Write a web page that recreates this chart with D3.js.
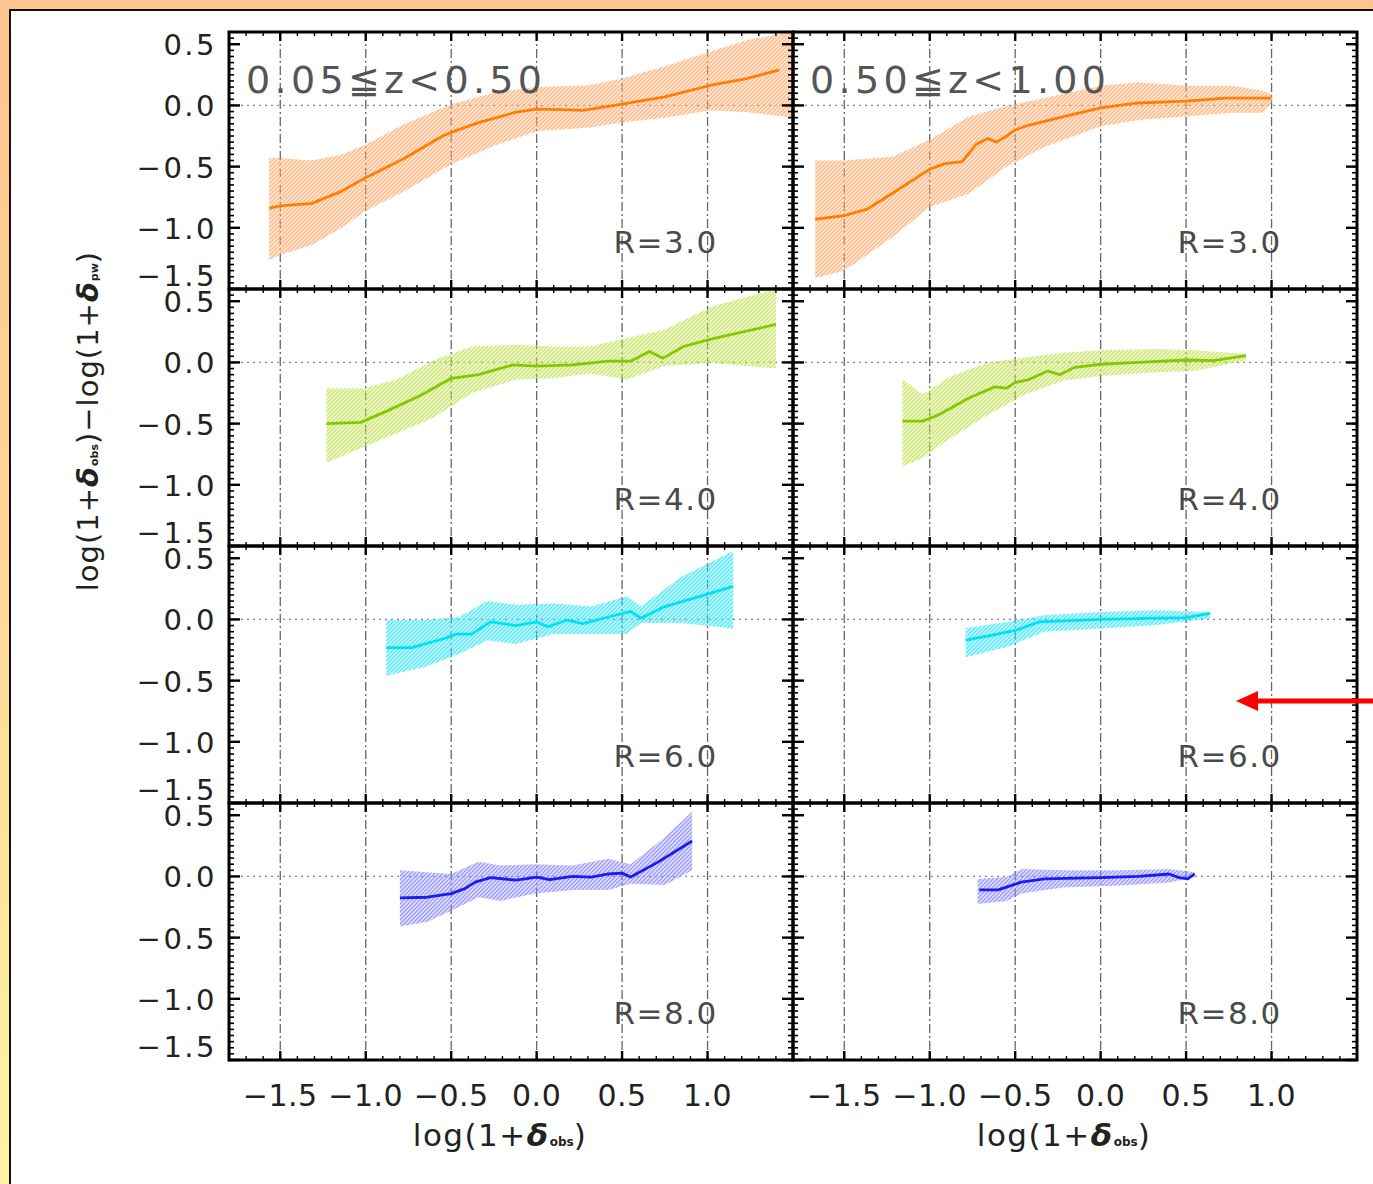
<!DOCTYPE html>
<html><head><meta charset="utf-8">
<script src="https://cdn.jsdelivr.net/npm/d3@7"></script>
<style>body{margin:0;background:#fff;overflow:hidden}</style>
</head><body><svg id="c" width="1373" height="1184"></svg>
<script>
// ---------- data ----------
const radii = ["R=3.0", "R=4.0", "R=6.0", "R=8.0"];
const zBins = ["0.05≦z<0.50", "0.50≦z<1.00"];
const xTicks = [-1.5, -1.0, -0.5, 0.0, 0.5, 1.0];
const xTickLabels = ["−1.5", "−1.0", "−0.5", "0.0", "0.5", "1.0"];
const yTicks = [0.5, 0.0, -0.5, -1.0, -1.5];
const yTickLabels = ["0.5", "0.0", "−0.5", "−1.0", "−1.5"];
const lineColors = ["#ff7f00", "#86c800", "#00e2f2", "#1c1cee"];
const bandColors = ["#ffaa70", "#c4e25a", "#36e6f6", "#8a8aff"];

// median curves [log(1+δobs), Δ]
const lineR3a = [[-1.565,-0.84],[-1.5,-0.82],[-1.315,-0.80],[-1.14,-0.70],[-1.0,-0.59],[-0.77,-0.43],[-0.55,-0.25],[-0.5,-0.22],[-0.34,-0.14],[-0.12,-0.055],[0.0,-0.03],[0.14,-0.035],[0.27,-0.04],[0.5,0.01],[0.75,0.07],[1.02,0.165],[1.23,0.22],[1.42,0.29]];
const lineR3b = [[-1.67,-0.93],[-1.5,-0.90],[-1.37,-0.85],[-1.22,-0.72],[-1.0,-0.52],[-0.91,-0.475],[-0.81,-0.46],[-0.73,-0.32],[-0.66,-0.27],[-0.61,-0.30],[-0.55,-0.25],[-0.5,-0.20],[-0.44,-0.17],[-0.24,-0.10],[0.0,-0.02],[0.22,0.02],[0.5,0.035],[0.73,0.06],[1.0,0.06]];
const lineR4a = [[-1.23,-0.50],[-1.03,-0.49],[-0.88,-0.40],[-0.68,-0.27],[-0.5,-0.13],[-0.34,-0.10],[-0.14,-0.02],[0.0,-0.03],[0.21,-0.02],[0.42,0.01],[0.55,0.01],[0.66,0.09],[0.74,0.035],[0.86,0.13],[1.02,0.19],[1.40,0.31]];
const lineR4b = [[-1.16,-0.48],[-1.04,-0.48],[-0.95,-0.43],[-0.77,-0.29],[-0.62,-0.20],[-0.55,-0.21],[-0.5,-0.165],[-0.42,-0.14],[-0.31,-0.07],[-0.24,-0.10],[-0.15,-0.04],[0.0,-0.015],[0.22,0.0],[0.5,0.02],[0.66,0.015],[0.85,0.055]];
const lineR6a = [[-0.88,-0.23],[-0.73,-0.23],[-0.55,-0.16],[-0.47,-0.12],[-0.38,-0.12],[-0.27,-0.02],[-0.12,-0.05],[0.0,-0.02],[0.065,-0.06],[0.18,-0.005],[0.27,-0.035],[0.42,0.02],[0.55,0.065],[0.61,0.01],[0.75,0.105],[1.02,0.215],[1.15,0.27]];
const lineR6b = [[-0.79,-0.17],[-0.64,-0.13],[-0.5,-0.09],[-0.36,-0.02],[0.0,0.0],[0.33,0.01],[0.5,0.015],[0.64,0.05]];
const lineR8a = [[-0.80,-0.175],[-0.64,-0.17],[-0.5,-0.14],[-0.42,-0.10],[-0.36,-0.046],[-0.27,-0.01],[-0.12,-0.03],[0.0,-0.005],[0.076,-0.027],[0.21,0.0],[0.32,-0.005],[0.42,0.02],[0.5,0.027],[0.55,-0.005],[0.71,0.117],[0.91,0.29]];
const lineR8b = [[-0.71,-0.11],[-0.60,-0.11],[-0.465,-0.047],[-0.33,-0.02],[0.0,-0.01],[0.22,0.0],[0.40,0.02],[0.46,-0.01],[0.51,-0.02],[0.55,0.02]];

// scatter bands [x, lower, upper]
const bandR3a = [[-1.565,-1.26,-0.43],[-1.5,-1.22,-0.43],[-1.315,-1.14,-0.45],[-1.14,-1.0,-0.40],[-1.0,-0.86,-0.32],[-0.77,-0.70,-0.15],[-0.5,-0.48,0.01],[-0.23,-0.32,0.11],[0.0,-0.21,0.15],[0.31,-0.18,0.165],[0.5,-0.14,0.22],[0.75,-0.10,0.32],[1.02,-0.04,0.44],[1.23,-0.055,0.535],[1.5,-0.10,0.60]];
const bandR3b = [[-1.67,-1.41,-0.45],[-1.5,-1.35,-0.45],[-1.22,-1.08,-0.42],[-1.0,-0.83,-0.28],[-0.77,-0.72,-0.09],[-0.55,-0.50,-0.005],[-0.33,-0.34,0.06],[0.0,-0.17,0.16],[0.22,-0.12,0.19],[0.5,-0.09,0.16],[0.77,-0.06,0.16],[0.95,-0.06,0.12],[1.0,0.02,0.09]];
const bandR4a = [[-1.23,-0.82,-0.21],[-1.01,-0.69,-0.21],[-0.82,-0.58,-0.14],[-0.60,-0.45,0.02],[-0.38,-0.25,0.13],[-0.12,-0.14,0.145],[0.10,-0.13,0.13],[0.31,-0.09,0.13],[0.53,-0.14,0.20],[0.75,-0.03,0.27],[1.03,-0.005,0.46],[1.40,-0.05,0.60]];
const bandR4b = [[-1.16,-0.85,-0.14],[-1.04,-0.78,-0.26],[-0.88,-0.62,-0.115],[-0.66,-0.43,0.0],[-0.44,-0.26,0.04],[-0.22,-0.15,0.08],[0.0,-0.11,0.10],[0.33,-0.08,0.11],[0.55,-0.07,0.10],[0.85,0.015,0.07]];
const bandR6a = [[-0.88,-0.46,-0.005],[-0.66,-0.39,-0.005],[-0.45,-0.28,0.02],[-0.29,-0.17,0.15],[-0.12,-0.20,0.12],[0.10,-0.12,0.13],[0.32,-0.12,0.105],[0.53,-0.12,0.19],[0.61,-0.03,0.105],[0.85,-0.03,0.35],[1.15,-0.075,0.56]];
const bandR6b = [[-0.79,-0.31,-0.07],[-0.55,-0.225,-0.02],[-0.33,-0.10,0.035],[0.0,-0.075,0.06],[0.33,-0.045,0.075],[0.64,0.01,0.06]];
const bandR8a = [[-0.80,-0.41,0.05],[-0.64,-0.37,0.035],[-0.5,-0.28,0.02],[-0.34,-0.17,0.12],[-0.21,-0.20,0.09],[-0.01,-0.14,0.10],[0.21,-0.11,0.09],[0.42,-0.11,0.145],[0.55,-0.06,0.10],[0.75,-0.07,0.32],[0.91,0.05,0.53]];
const bandR8b = [[-0.72,-0.225,-0.02],[-0.55,-0.20,-0.005],[-0.465,-0.14,0.06],[-0.22,-0.09,0.05],[0.11,-0.075,0.05],[0.40,-0.05,0.06],[0.55,-0.005,0.035]];

const panelLines = [[lineR3a, lineR3b], [lineR4a, lineR4b], [lineR6a, lineR6b], [lineR8a, lineR8b]];
const panelBands = [[bandR3a, bandR3b], [bandR4a, bandR4b], [bandR6a, bandR6b], [bandR8a, bandR8b]];

// ---------- layout ----------
const W = 1373, H = 1184;
const padL = 229, padT = 32, panelW = 564, panelH = 257;
const svg = d3.select("#c");
const defs = svg.append("defs");

const bg = defs.append("linearGradient").attr("id", "bg").attr("x1", 0).attr("y1", 0).attr("x2", 0).attr("y2", 1);
bg.append("stop").attr("offset", "0%").attr("stop-color", "#ffc48e");
bg.append("stop").attr("offset", "45%").attr("stop-color", "#ffd596");
bg.append("stop").attr("offset", "100%").attr("stop-color", "#fff4a4");
svg.append("rect").attr("width", W).attr("height", H).attr("fill", "url(#bg)");
svg.append("rect").attr("x", 10).attr("y", 10).attr("width", W).attr("height", H)
  .attr("fill", "#fff").attr("stroke", "#111").attr("stroke-width", 2);

// hatch patterns
bandColors.forEach((c, i) => {
  const p = defs.append("pattern").attr("id", "hatch" + i).attr("patternUnits", "userSpaceOnUse")
    .attr("width", 4).attr("height", 4);
  p.append("rect").attr("width", 4).attr("height", 4).attr("fill", c).attr("opacity", 0.25);
  p.append("path").attr("d", "M-1,1 l2,-2 M0,4 l4,-4 M3,5 l2,-2")
    .attr("stroke", c).attr("stroke-width", 1.3).attr("opacity", 0.8);
});

const x = d3.scaleLinear().domain([-1.8, 1.5]).range([0, panelW]);
const y = d3.scaleLinear().domain([-1.5, 0.6]).range([panelH, 0]);
const xMinor = d3.range(-1.8, 1.5001, 0.1);
const yMinor = d3.range(-1.5, 0.6001, 0.05);

const labelFont = "'DejaVu Sans', 'Liberation Sans', sans-serif";

for (let r = 0; r < 4; r++) {
  for (let c = 0; c < 2; c++) {
    const g = svg.append("g").attr("transform", `translate(${padL + c * panelW},${padT + r * panelH})`);
    const cid = `clip${r}${c}`;
    defs.append("clipPath").attr("id", cid).append("rect").attr("width", panelW).attr("height", panelH);

    // grid
    g.selectAll(".vg").data(xTicks).join("line")
      .attr("x1", d => x(d)).attr("x2", d => x(d)).attr("y1", 0).attr("y2", panelH)
      .attr("stroke", "#666").attr("stroke-width", 1.3).attr("stroke-dasharray", "9,3,2,3");
    g.append("line").attr("x1", 0).attr("x2", panelW).attr("y1", y(0)).attr("y2", y(0))
      .attr("stroke", "#888").attr("stroke-width", 1.3).attr("stroke-dasharray", "2,4");

    const inner = g.append("g").attr("clip-path", `url(#${cid})`);
    const band = panelBands[r][c];
    inner.append("path").datum(band)
      .attr("d", d3.area().x(d => x(d[0])).y0(d => y(d[1])).y1(d => y(d[2])))
      .attr("fill", `url(#hatch${r})`);
    inner.append("path").datum(panelLines[r][c])
      .attr("d", d3.line().x(d => x(d[0])).y(d => y(d[1])))
      .attr("fill", "none").attr("stroke", lineColors[r]).attr("stroke-width", 2.8)
      .attr("stroke-linejoin", "round");

    // frame
    g.append("rect").attr("width", panelW).attr("height", panelH)
      .attr("fill", "none").attr("stroke", "#000").attr("stroke-width", 3);

    // ticks
    const tk = g.append("g").attr("stroke", "#000");
    xMinor.forEach(v => {
      tk.append("line").attr("x1", x(v)).attr("x2", x(v)).attr("y1", 0).attr("y2", 4).attr("stroke-width", 1.4);
      tk.append("line").attr("x1", x(v)).attr("x2", x(v)).attr("y1", panelH).attr("y2", panelH - 4).attr("stroke-width", 1.4);
    });
    yMinor.forEach(v => {
      tk.append("line").attr("y1", y(v)).attr("y2", y(v)).attr("x1", 0).attr("x2", 5).attr("stroke-width", 1.6);
      tk.append("line").attr("y1", y(v)).attr("y2", y(v)).attr("x1", panelW).attr("x2", panelW - 5).attr("stroke-width", 1.6);
    });
    xTicks.forEach(v => {
      tk.append("line").attr("x1", x(v)).attr("x2", x(v)).attr("y1", 0).attr("y2", 9).attr("stroke-width", 2.4);
      tk.append("line").attr("x1", x(v)).attr("x2", x(v)).attr("y1", panelH).attr("y2", panelH - 9).attr("stroke-width", 2.4);
    });
    yTicks.forEach(v => {
      tk.append("line").attr("y1", y(v)).attr("y2", y(v)).attr("x1", 0).attr("x2", 11).attr("stroke-width", 2.4);
      tk.append("line").attr("y1", y(v)).attr("y2", y(v)).attr("x1", panelW).attr("x2", panelW - 11).attr("stroke-width", 2.4);
    });

    // y tick labels (left column only)
    if (c === 0) {
      g.selectAll(".yl").data(yTicks).join("text")
        .attr("x", -12).attr("y", d => y(d) + (d === -1.5 ? -13 : 1))
        .attr("text-anchor", "end").attr("dominant-baseline", "central")
        .attr("font-family", labelFont).attr("font-size", 29).attr("letter-spacing", 2.5)
        .attr("fill", "#222").text((d, i) => yTickLabels[i]);
    }
    // x tick labels + title (bottom row only)
    if (r === 3) {
      g.selectAll(".xl").data(xTicks).join("text")
        .attr("x", d => x(d)).attr("y", panelH + 35)
        .attr("text-anchor", "middle").attr("dominant-baseline", "central")
        .attr("font-family", labelFont).attr("font-size", 30).attr("letter-spacing", 0.5)
        .attr("fill", "#222").text((d, i) => xTickLabels[i]);
      const xt = g.append("text").attr("x", panelW / 2 - 11).attr("y", panelH + 75)
        .attr("text-anchor", "middle").attr("dominant-baseline", "central")
        .attr("font-family", labelFont).attr("font-size", 31).attr("letter-spacing", 1.5).attr("fill", "#222");
      xt.append("tspan").text("log(1+");
      xt.append("tspan").attr("font-style", "italic").attr("font-weight", "bold").text("δ");
      xt.append("tspan").attr("font-size", 12).attr("font-weight", "bold").attr("letter-spacing", 0).attr("dy", 7).text("obs");
      xt.append("tspan").attr("dy", -7).text(")");
    }
    // annotations
    g.append("text").attr("x", x(1.06)).attr("y", y(-1.12))
      .attr("text-anchor", "end").attr("dominant-baseline", "central")
      .attr("font-family", labelFont).attr("font-size", 31).attr("letter-spacing", 1.5)
      .attr("fill", "#4a4a4a").text(radii[r]);
    if (r === 0) {
      g.append("text").attr("x", x(-1.7)).attr("y", y(0.21))
        .attr("dominant-baseline", "central")
        .attr("font-family", labelFont).attr("font-size", 38).attr("letter-spacing", 4.3)
        .attr("fill", "#555").text(zBins[c]);
    }
  }
}

// y axis title
const yt = svg.append("text").attr("transform", "translate(88,421) rotate(-90)")
  .attr("text-anchor", "middle").attr("dominant-baseline", "central")
  .attr("font-family", labelFont).attr("font-size", 29).attr("letter-spacing", 1).attr("fill", "#222");
yt.append("tspan").text("log(1+");
yt.append("tspan").attr("font-style", "italic").attr("font-weight", "bold").text("δ");
yt.append("tspan").attr("font-size", 11).attr("font-weight", "bold").attr("letter-spacing", 0).attr("dy", 6).text("obs");
yt.append("tspan").attr("dy", -6).text(")−log(1+");
yt.append("tspan").attr("font-style", "italic").attr("font-weight", "bold").text("δ");
yt.append("tspan").attr("font-size", 11).attr("font-weight", "bold").attr("letter-spacing", 0).attr("dy", 6).text("pw");
yt.append("tspan").attr("dy", -6).text(")");

// red arrow annotation
svg.append("line").attr("x1", 1373).attr("x2", 1252).attr("y1", 701).attr("y2", 701)
  .attr("stroke", "#f00").attr("stroke-width", 5);
svg.append("path").attr("d", "M1236,701 L1258,691 L1258,711 Z").attr("fill", "#f00");
</script>
</body></html>
